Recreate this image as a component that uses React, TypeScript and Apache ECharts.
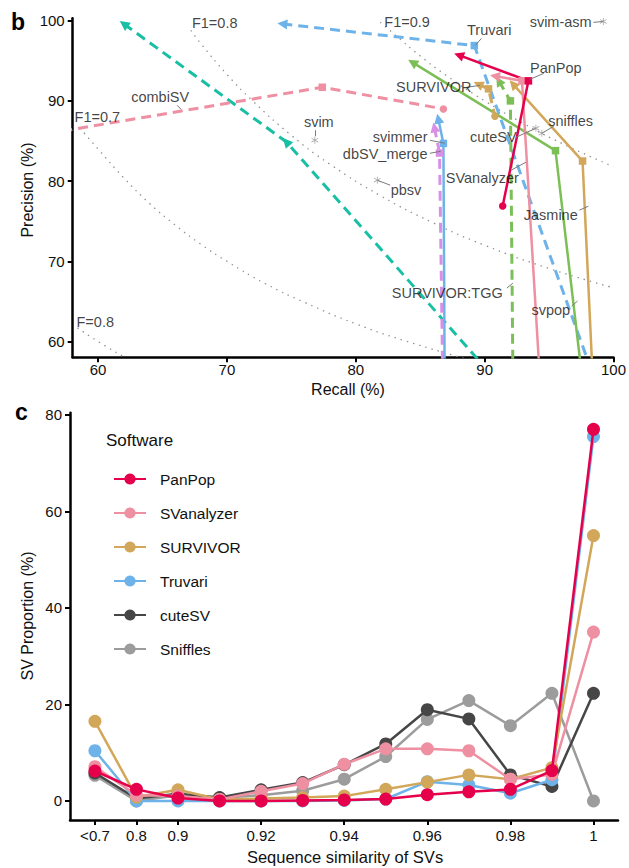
import React, { useEffect, useRef } from "react";
import * as echarts from "echarts";

const FONT = '"Liberation Sans", Arial, Helvetica, sans-serif';

// ---------------- Panel b: precision vs recall ----------------
const recallTicks = [60, 70, 80, 90, 100];
const precisionTicks = [60, 70, 80, 90, 100];

// [recall, precision, marker]
const tealDashed = [[62.0, 99.6, "triangle"], [74.6, 84.9, "triangle"], [91.0, 55, "none"]];
const blueDashed = [[74.3, 99.6, "triangle"], [89.2, 96.9, "rect"], [98.6, 55, "none"]];
const pinkDashed = [[56.0, 85.9, "none"], [77.4, 91.7, "rect"], [86.8, 89.0, "circle"]];
const pinkSolid = [[90.8, 93.1, "triangle"], [92.9, 92.5, "rect"], [94.3, 55, "none"]];
const redSolid = [[88.0, 95.7, "triangle"], [93.4, 92.5, "rect"], [91.4, 76.9, "circle"]];
const greenSolid = [[84.4, 94.8, "triangle"], [95.5, 83.8, "rect"], [97.6, 55, "none"]];
const goldSolid = [[92.2, 92.1, "triangle"], [97.6, 82.5, "rect"], [98.4, 55, "none"]];
const goldDashed = [[89.5, 92.1, "triangle"], [90.3, 91.5, "rect"], [90.8, 88.1, "circle"]];
const greenDashed = [[91.1, 92.5, "triangle"], [92.0, 90.0, "rect"], [92.2, 55, "none"]];
const blueSolid = [[86.4, 87.8, "triangle"], [86.8, 84.7, "rect"], [86.9, 55, "none"]];
const violetDashed = [[86.1, 86.7, "triangle"], [86.5, 83.5, "rect"], [86.75, 55, "none"]];

// single-point tools (asterisks)
const singleNames = ["svim", "pbsv", "cuteSV", "sniffles", "svim-asm"];
const singleRecall = [76.82, 81.67, 93.98, 94.44, 99.21];
const singlePrecision = [85.1, 80.11, 86.59, 85.96, 99.91];

// F1 iso-lines
const f1_07 = [[58.6, 86.6], [60, 84.0], [62, 80.4], [64, 77.2], [66, 74.5], [68, 72.1], [70, 70.0], [73, 67.2], [76, 64.9], [80, 62.2], [84, 60.0], [88.4, 57.9]];
const f1_08 = [[67.2, 98.8], [68, 97.1], [70, 93.3], [72, 90.0], [75, 85.7], [78, 82.1], [82, 78.1], [86, 74.8], [90, 72.0], [95, 69.1], [100, 66.7]];
const f1_09 = [[81.9, 99.8], [83, 98.3], [85, 95.6], [87, 93.2], [90, 90.0], [93, 87.2], [96, 84.7], [100, 81.8]];
const f1_06 = [[58.4, 61.7], [60, 60.0], [62.1, 58.0]];

// iso-line labels: text, recall, precision
const isoLabels = [["F1=0.8", 69.05, 99.67], ["F1=0.9", 83.98, 99.79], ["F1=0.7", 59.94, 87.96], ["F=0.8", 59.78, 62.43]];

// annotation: text, label [r,p], leader from [r,p], leader to [r,p]
const annotations = [
  ["Truvari", [90.36, 98.79], [89.75, 97.79], [89.28, 96.92]],
  ["PanPop", [95.52, 94.06], [94.59, 93.44], [93.52, 92.69]],
  ["SURVIVOR", [86.05, 91.69], [88.59, 91.69], [89.64, 91.94]],
  ["sniffles", [96.67, 87.45], [95.36, 86.83], [94.44, 85.96]],
  ["cuteSV", [90.67, 85.47], [92.44, 85.47], [93.98, 86.59]],
  ["svimmer", [83.44, 85.47], [85.75, 85.09], [86.9, 84.72]],
  ["dbSV_merge", [82.28, 83.35], [85.75, 83.47], [86.59, 83.72]],
  ["SVanalyzer", [89.82, 80.36], [92.05, 81.36], [93.21, 82.35]],
  ["pbsv", [83.9, 78.87], [82.67, 79.49], [81.67, 80.11]],
  ["svim", [77.13, 87.34], [76.82, 86.34], [76.82, 85.59]],
  ["combiSV", [64.82, 90.45], [66.13, 89.46], [66.44, 88.96]],
  ["Jasmine", [95.13, 75.75], [97.36, 76.38], [98.05, 76.87]],
  ["SURVIVOR:TGG", [87.1, 66.04], [91.73, 66.66], [92.19, 67.28]],
  ["svpop", [95.13, 63.92], [96.75, 64.42], [97.21, 65.04]],
  ["svim-asm", [95.9, 99.79], [98.44, 99.79], [99.21, 99.91]],
];

// ---------------- Panel c: similarity distribution ----------------
const simCategories = ["<0.7", "0.8", "0.9", "0.91", "0.92", "0.93", "0.94", "0.95", "0.96", "0.97", "0.98", "0.99", "1"];
const simLabelled = [0, 1, 2, 4, 6, 8, 10, 12];
const proportionTicks = [0, 20, 40, 60, 80];
const panPop = [6.2, 2.4, 0.6, 0.0, 0.0, 0.1, 0.2, 0.4, 1.3, 1.9, 2.4, 6.3, 77.0];
const svAnalyzer = [7.1, 1.2, 1.0, 0.3, 2.0, 3.6, 7.6, 10.8, 10.8, 10.4, 4.5, 5.5, 35.0];
const survivor = [16.5, 0.8, 2.3, 0.3, 0.5, 0.7, 1.0, 2.4, 3.9, 5.4, 4.5, 6.9, 55.0];
const truvari = [10.4, 0.0, 0.0, 0.0, 0.0, 0.0, 0.1, 0.4, 4.0, 3.3, 1.6, 4.4, 75.5];
const cuteSV = [5.8, 0.5, 1.5, 0.7, 2.3, 3.8, 7.5, 11.8, 18.9, 17.0, 5.4, 3.0, 22.3];
const sniffles = [5.3, 0.0, 1.2, 0.6, 1.2, 2.1, 4.5, 9.2, 16.9, 20.8, 15.6, 22.3, 0.0];

const C = {
  teal: "#19BFA4",
  blue: "#6DB3E9",
  pink: "#EF8FA2",
  red: "#E6004C",
  green: "#7CBF57",
  gold: "#D2A75A",
  violet: "#D98FE6",
  dark: "#464646",
  grey: "#9C9C9C",
};

const PX_R = 13.0;
const PX_P = 8.03;

function pathSeries(name: string, pts: any[], color: string, dashed: boolean) {
  const data = pts.map((p, i) => {
    const sym = p[2];
    let rot = 0;
    if (sym === "triangle") {
      const n = i < pts.length - 1 ? pts[i + 1] : pts[i - 1];
      const vx = (p[0] - n[0]) * PX_R;
      const vy = (p[1] - n[1]) * PX_P;
      rot = (Math.atan2(vy, vx) * 180) / Math.PI - 90;
    }
    return {
      value: [p[0], p[1]],
      symbol: sym,
      symbolSize: sym === "triangle" ? 10 : 7.5,
      symbolRotate: rot,
    };
  });
  return {
    type: "line",
    name,
    xAxisIndex: 0,
    yAxisIndex: 0,
    data,
    clip: true,
    silent: true,
    z: 4,
    lineStyle: { color, width: dashed ? 3 : 2.5, type: dashed ? [10, 6] : "solid", cap: "butt" },
    itemStyle: { color },
  };
}

function isoSeries(name: string, pts: number[][]) {
  return {
    type: "line",
    name,
    xAxisIndex: 0,
    yAxisIndex: 0,
    data: pts,
    smooth: true,
    symbol: "none",
    silent: true,
    clip: true,
    z: 2,
    lineStyle: { color: "#909090", width: 1.3, type: [1.4, 5] },
  };
}

const STAR =
  "path://M4.5,0 L5.5,0 L5.5,10 L4.5,10 Z M0.4,2.7 L0.9,1.8 L9.6,7.3 L9.1,8.2 Z M0.4,7.3 L0.9,8.2 L9.6,2.7 L9.1,1.8 Z";

function bottomSeries(name: string, vals: number[], color: string, z: number) {
  return {
    type: "line",
    name,
    xAxisIndex: 1,
    yAxisIndex: 1,
    data: vals.map((v, i) => [i, v]),
    symbol: "circle",
    symbolSize: 13,
    z,
    silent: true,
    lineStyle: { color, width: 2.5 },
    itemStyle: { color },
  };
}

function buildOption() {
  const axisLine = { show: true, onZero: false, lineStyle: { color: "#000", width: 2.5 } };
  const labelStyle = { color: "#111", fontSize: 15, fontFamily: FONT };
  return {
    animation: false,
    backgroundColor: "#fff",
    textStyle: { fontFamily: FONT },
    grid: [
      { left: 72.7, top: 18.3, width: 545.3, height: 339, containLabel: false },
      { left: 70, top: 412.7, width: 548, height: 407.3, containLabel: false },
    ],
    xAxis: [
      {
        type: "value",
        gridIndex: 0,
        min: 58.03,
        max: 100,
        axisLine,
        axisTick: { show: true, length: 5, customValues: recallTicks, lineStyle: { color: "#000", width: 2 } },
        axisLabel: { ...labelStyle, margin: 5, customValues: recallTicks },
        splitLine: { show: false },
      },
      {
        type: "value",
        gridIndex: 1,
        min: -0.6,
        max: 12.59,
        axisLine,
        axisTick: { show: true, length: 5, customValues: simLabelled, lineStyle: { color: "#000", width: 2 } },
        axisLabel: {
          ...labelStyle,
          margin: 8,
          customValues: simLabelled,
          formatter: (v: number) => simCategories[Math.round(v)],
        },
        splitLine: { show: false },
      },
    ],
    yAxis: [
      {
        type: "value",
        gridIndex: 0,
        min: 58.03,
        max: 100.3,
        axisLine,
        axisTick: { show: true, length: 5, customValues: precisionTicks, lineStyle: { color: "#000", width: 2 } },
        axisLabel: { ...labelStyle, margin: 8, customValues: precisionTicks },
        splitLine: { show: false },
      },
      {
        type: "value",
        gridIndex: 1,
        min: -3.95,
        max: 80.45,
        axisLine,
        axisTick: { show: true, length: 5, customValues: proportionTicks, lineStyle: { color: "#000", width: 2 } },
        axisLabel: { ...labelStyle, margin: 8, customValues: proportionTicks },
        splitLine: { show: false },
      },
    ],
    legend: {
      data: ["PanPop", "SVanalyzer", "SURVIVOR", "Truvari", "cuteSV", "Sniffles"],
      orient: "vertical",
      left: 108,
      top: 466,
      itemWidth: 32,
      itemHeight: 14,
      itemGap: 18,
      selectedMode: false,
      textStyle: { color: "#111", fontSize: 15.5, fontFamily: FONT, padding: [0, 0, 0, 9] },
    },
    graphic: [
      { type: "text", left: 11, top: 10, style: { text: "b", font: `bold 23px ${FONT}`, fill: "#000" } },
      { type: "text", left: 15, top: 400, style: { text: "c", font: `bold 23px ${FONT}`, fill: "#000" } },
      {
        type: "text",
        x: 27,
        y: 190,
        rotation: Math.PI / 2,
        style: { text: "Precision (%)", font: `16px ${FONT}`, fill: "#111", align: "center", verticalAlign: "middle" },
      },
      {
        type: "text",
        x: 348,
        y: 389,
        style: { text: "Recall (%)", font: `16px ${FONT}`, fill: "#111", align: "center", verticalAlign: "middle" },
      },
      {
        type: "text",
        x: 27,
        y: 616,
        rotation: Math.PI / 2,
        style: { text: "SV Proportion (%)", font: `16px ${FONT}`, fill: "#111", align: "center", verticalAlign: "middle" },
      },
      {
        type: "text",
        x: 345,
        y: 857,
        style: { text: "Sequence similarity of SVs", font: `16.5px ${FONT}`, fill: "#111", align: "center", verticalAlign: "middle" },
      },
      {
        type: "text",
        x: 106,
        y: 440,
        style: { text: "Software", font: `17px ${FONT}`, fill: "#111", align: "left", verticalAlign: "middle" },
      },
    ],
    series: [
      isoSeries("iso07", f1_07),
      isoSeries("iso08", f1_08),
      isoSeries("iso09", f1_09),
      isoSeries("iso06", f1_06),
      pathSeries("tealDashed", tealDashed, C.teal, true),
      pathSeries("blueDashed", blueDashed, C.blue, true),
      pathSeries("pinkDashed", pinkDashed, C.pink, true),
      pathSeries("violetDashed", violetDashed, C.violet, true),
      pathSeries("blueSolid", blueSolid, C.blue, false),
      pathSeries("greenDashed", greenDashed, C.green, true),
      pathSeries("greenSolid", greenSolid, C.green, false),
      pathSeries("goldSolid", goldSolid, C.gold, false),
      pathSeries("pinkSolid", pinkSolid, C.pink, false),
      pathSeries("goldDashed", goldDashed, C.gold, true),
      pathSeries("redSolid", redSolid, C.red, false),
      {
        type: "scatter",
        name: "singles",
        xAxisIndex: 0,
        yAxisIndex: 0,
        silent: true,
        z: 5,
        symbol: STAR,
        symbolSize: 7,
        itemStyle: { color: "#8a8a8a" },
        data: singleNames.map((n, i) => ({ name: n, value: [singleRecall[i], singlePrecision[i]] })),
      },
      {
        type: "scatter",
        name: "annotations",
        xAxisIndex: 0,
        yAxisIndex: 0,
        silent: true,
        clip: false,
        z: 6,
        symbolSize: 1,
        itemStyle: { color: "rgba(0,0,0,0)" },
        label: {
          show: true,
          position: "inside",
          formatter: "{b}",
          color: "#111",
          fontSize: 14.5,
          fontFamily: FONT,
        },
        data: [
          ...annotations.map((a: any) => ({ name: a[0], value: a[1] })),
          ...isoLabels.map((a: any) => ({ name: a[0], value: [a[1], a[2]] })),
        ],
        markLine: {
          silent: true,
          symbol: ["none", "none"],
          label: { show: false },
          lineStyle: { color: "#7a7a7a", width: 1, type: "solid" },
          data: annotations.map((a: any) => [{ coord: a[2] }, { coord: a[3] }]),
        },
      },
      bottomSeries("Sniffles", sniffles, C.grey, 3),
      bottomSeries("cuteSV", cuteSV, C.dark, 4),
      bottomSeries("Truvari", truvari, C.blue, 5),
      bottomSeries("SURVIVOR", survivor, C.gold, 6),
      bottomSeries("SVanalyzer", svAnalyzer, C.pink, 7),
      bottomSeries("PanPop", panPop, C.red, 8),
    ],
  };
}

export default function App() {
  const ref = useRef<HTMLDivElement>(null);
  useEffect(() => {
    const chart = echarts.init(ref.current!, null, { renderer: "svg" });
    chart.setOption(buildOption() as any);
    return () => chart.dispose();
  }, []);
  return (
    <div
      ref={ref}
      style={{ position: "absolute", left: 0, top: 0, width: 629, height: 868, background: "#fff" }}
    />
  );
}
